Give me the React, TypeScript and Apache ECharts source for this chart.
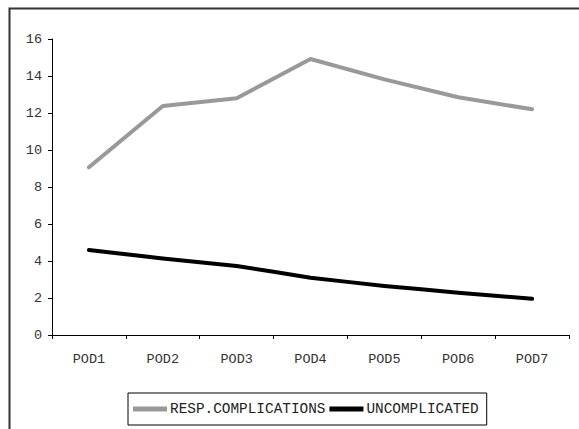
import React, { useEffect, useRef } from "react";
import * as echarts from "echarts";

const categories = ["POD1", "POD2", "POD3", "POD4", "POD5", "POD6", "POD7"];
const respComplications = [9.07, 12.38, 12.8, 14.92, 13.82, 12.85, 12.2];
const uncomplicated = [4.59, 4.14, 3.73, 3.1, 2.65, 2.29, 1.96];
const yTicks = { min: 0, max: 16, interval: 2 };

const FONT = "'Liberation Mono', 'Courier New', monospace";

export default function App() {
  const ref = useRef<HTMLDivElement>(null);
  useEffect(() => {
    document.body.style.margin = "0";
    const chart = echarts.init(ref.current!, undefined, { renderer: "svg" });
    chart.setOption({
      animation: false,
      backgroundColor: "#ffffff",
      graphic: [
        {
          type: "rect",
          shape: { x: 9.5, y: 8.5, width: 600, height: 450 },
          style: { fill: "none", stroke: "#333333", lineWidth: 2 },
          z: 10,
        },
      ],
      grid: { left: 52, top: 39, right: 10, bottom: 94 },
      xAxis: {
        type: "category",
        data: categories,
        boundaryGap: true,
        axisLine: { lineStyle: { color: "#000", width: 1 } },
        axisTick: { show: true, length: 4, inside: false, alignWithLabel: false, lineStyle: { color: "#000" } },
        axisLabel: { color: "#333", fontFamily: FONT, fontSize: 13.5, margin: 17 },
        splitLine: { show: false },
      },
      yAxis: {
        type: "value",
        min: yTicks.min,
        max: yTicks.max,
        interval: yTicks.interval,
        axisLine: { show: true, lineStyle: { color: "#000", width: 1 } },
        axisTick: { show: true, length: 4, lineStyle: { color: "#000" } },
        axisLabel: { color: "#333", fontFamily: FONT, fontSize: 13.5, margin: 10 },
        splitLine: { show: false },
      },
      legend: {
        left: 128,
        top: 393,
        orient: "horizontal",
        padding: [9, 8, 9, 5],
        borderColor: "#000",
        borderWidth: 1,
        itemGap: 4,
        itemWidth: 34,
        itemHeight: 14,
        textStyle: { fontFamily: FONT, fontSize: 14.4, color: "#222", padding: [0, 0, 0, -2] },
        data: [
          { name: "RESP.COMPLICATIONS", icon: "path://M0,0L34,0L34,5L0,5Z", itemStyle: { color: "#999999" } },
          { name: "UNCOMPLICATED", icon: "path://M0,0L34,0L34,5L0,5Z", itemStyle: { color: "#000000" } },
        ],
      },
      series: [
        {
          name: "RESP.COMPLICATIONS",
          type: "line",
          data: respComplications,
          smooth: false,
          symbol: "none",
          lineStyle: { color: "#999999", width: 4, cap: "round", join: "round" },
          itemStyle: { color: "#999999" },
        },
        {
          name: "UNCOMPLICATED",
          type: "line",
          data: uncomplicated,
          smooth: 0.08,
          symbol: "none",
          lineStyle: { color: "#000000", width: 4, cap: "round", join: "round" },
          itemStyle: { color: "#000000" },
        },
      ],
    });
    return () => chart.dispose();
  }, []);
  return (
    <div
      ref={ref}
      style={{ position: "absolute", left: 0, top: 0, width: 579, height: 429 }}
    />
  );
}
